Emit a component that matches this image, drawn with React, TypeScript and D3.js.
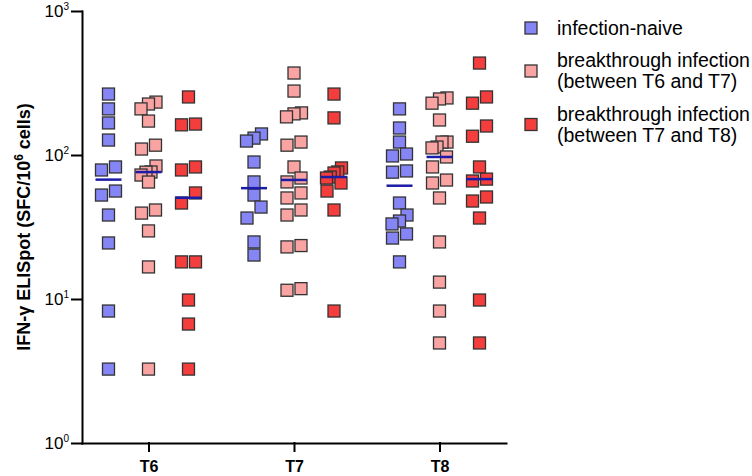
import React, { useEffect, useRef } from "react";
import * as d3 from "d3";

const categories = ["T6", "T7", "T8"];
const groupKeys = ["naive", "t6t7", "t7t8"];
const groupColors = ["#8585f5", "#f9a3a3", "#f43d3d"];
const legendLines = [
	["infection-naive"],
	["breakthrough infection", "(between T6 and T7)"],
	["breakthrough infection", "(between T7 and T8)"],
];
const yTicks = [1, 10, 100, 1000];
const yTickExponents = ["0", "1", "2", "3"];

// SFC per 10^6 cells
const naiveT6 = [265, 209, 167, 127, 82.6, 78.7, 56.2, 52.7, 38.3, 24.5, 8.25, 3.26];
const t6t7T6 = [233, 226, 209, 172, 117, 110, 83.9, 76.2, 76, 72.6, 64.9, 41.5, 39.5, 29.7, 16.7, 3.26];
const t7t8T6 = [253, 164, 162, 82.6, 78.7, 54.5, 46.4, 18.1, 18.1, 9.84, 6.7, 3.26];

const naiveT7 = [140, 131, 125, 89.4, 65, 52.7, 43.5, 36.5, 24.9, 20.2];
const t6t7T7 = [371, 278, 196, 193, 184, 123, 117, 82.6, 69.2, 65, 54.5, 50.3, 41.5, 38.3, 23.5, 23, 11.8, 11.5];
const t7t8T7 = [265, 181, 81.3, 76.2, 75, 70.3, 69.2, 63.9, 56.2, 41.5, 8.25];

const naiveT8 = [209, 154, 123, 101.6, 98.5, 77.5, 76, 46.4, 38.3, 34.8, 33.2, 28.3, 26.5, 18.1];
const t6t7T8 = [249, 245, 229, 175, 123, 123, 113.6, 112, 96.9, 82.6, 67, 63.9, 50.3, 24.9, 13.1, 8.25, 4.95];
const t7t8T8 = [435, 253, 229, 159, 135, 82.6, 68, 66, 51.1, 47.9, 36.5, 9.84, 4.95];

const seriesByCategory = {
	T6: [naiveT6, t6t7T6, t7t8T6],
	T7: [naiveT7, t6t7T7, t7t8T7],
	T8: [naiveT8, t6t7T8, t7t8T8],
};

const FONT = "'Liberation Sans', Arial, Helvetica, sans-serif";
const SQ = 12;

const App = () => {
	const svgRef = useRef<SVGSVGElement>(null);

	useEffect(() => {
		const svg = d3.select(svgRef.current);
		svg.selectAll("*").remove();

		const x = d3.scalePoint().domain(categories).range([82, 506]).padding(0.457);
		const sub = d3.scalePoint().domain(groupKeys).range([-40, 40]);
		const y = d3.scaleLog().domain([1, 1000]).range([443, 11]);

		// spread overlapping points sideways, like a column scatter
		const dodge = (vals: number[]) => {
			const items = vals.map((v) => ({ v, py: y(v), dx: 0 })).sort((a, b) => a.py - b.py);
			let i = 0;
			while (i < items.length) {
				let j = i;
				while (j + 1 < items.length && items[j + 1].py - items[i].py < 11) j++;
				const n = j - i + 1;
				const sp = n > 1 ? Math.min(14, 15 / (n - 1)) : 0;
				for (let k = 0; k < n; k++) items[i + k].dx = ((n - 1) / 2 - k) * sp;
				i = j + 1;
			}
			return items;
		};

		const plot = svg.append("g");

		categories.forEach((cat) => {
			seriesByCategory[cat].forEach((vals: number[], gi: number) => {
				const cx = (x(cat) as number) + (sub(groupKeys[gi]) as number);
				plot.append("g")
					.selectAll("rect")
					.data(dodge(vals))
					.join("rect")
					.attr("x", (d) => cx + d.dx - SQ / 2)
					.attr("y", (d) => d.py - SQ / 2)
					.attr("width", SQ)
					.attr("height", SQ)
					.attr("fill", groupColors[gi])
					.attr("stroke", "#333")
					.attr("stroke-width", 1.3);
			});
		});

		// medians on top
		categories.forEach((cat) => {
			seriesByCategory[cat].forEach((vals: number[], gi: number) => {
				const cx = (x(cat) as number) + (sub(groupKeys[gi]) as number);
				const m = d3.median(vals) as number;
				plot.append("line")
					.attr("x1", cx - 13)
					.attr("x2", cx + 13)
					.attr("y1", y(m))
					.attr("y2", y(m))
					.attr("stroke", "#1c1ca6")
					.attr("stroke-width", 2.5);
			});
		});

		// y axis
		const yAxis = svg.append("g")
			.attr("transform", "translate(82,0)")
			.call(d3.axisLeft(y).tickValues(yTicks).tickSize(10).tickSizeOuter(0).tickFormat(() => ""));
		yAxis.selectAll("path, line").attr("stroke", "#000").attr("stroke-width", 2).attr("stroke-linecap", "square");

		yTicks.forEach((t, i) => {
			const txt = svg.append("text")
				.attr("x", 69)
				.attr("y", y(t))
				.attr("dy", "0.36em")
				.attr("text-anchor", "end")
				.style("font-family", FONT)
				.style("font-size", "17px")
				.attr("fill", "#000")
				.text("10");
			txt.append("tspan").attr("dy", -7).style("font-size", "10px").text(yTickExponents[i]);
		});

		// x axis
		const xAxis = svg.append("g")
			.attr("transform", "translate(0,443)")
			.call(d3.axisBottom(x).tickSize(8).tickSizeOuter(0));
		xAxis.selectAll("path, line").attr("stroke", "#000").attr("stroke-width", 2).attr("stroke-linecap", "square");
		xAxis.selectAll(".tick text")
			.attr("y", 18)
			.attr("fill", "#000")
			.style("font-family", FONT)
			.style("font-size", "16px")
			.style("font-weight", "bold");

		// y title
		const title = svg.append("text")
			.attr("transform", "translate(24,227) rotate(-90)")
			.attr("text-anchor", "middle")
			.attr("dy", "0.35em")
			.style("font-family", FONT)
			.style("font-size", "18px")
			.style("font-weight", "bold")
			.attr("fill", "#000");
		title.append("tspan").text("IFN-γ ELISpot (SFC/10");
		title.append("tspan").attr("dy", -7).style("font-size", "12px").text("6");
		title.append("tspan").attr("dy", 7).text(" cells)");

		// legend
		let cy = 28;
		legendLines.forEach((lines, i) => {
			if (i > 0) cy += ((legendLines[i - 1].length - 1) * 21) / 2 + 32.5 + ((lines.length - 1) * 21) / 2;
			svg.append("rect")
				.attr("x", 531 - SQ / 2)
				.attr("y", cy - SQ / 2)
				.attr("width", SQ)
				.attr("height", SQ)
				.attr("fill", groupColors[i])
				.attr("stroke", "#333")
				.attr("stroke-width", 1.3);
			lines.forEach((ln, j) => {
				svg.append("text")
					.attr("x", 557)
					.attr("y", cy + (j - (lines.length - 1) / 2) * 21)
					.attr("dy", "0.35em")
					.style("font-family", FONT)
					.style("font-size", "19.5px")
					.attr("fill", "#000")
					.text(ln);
			});
		});
	}, []);

	return (
		<svg
			ref={svgRef}
			width={752}
			height={476}
			style={{ position: "absolute", left: 0, top: 0, background: "#fff" }}
		></svg>
	);
};

export default App;
